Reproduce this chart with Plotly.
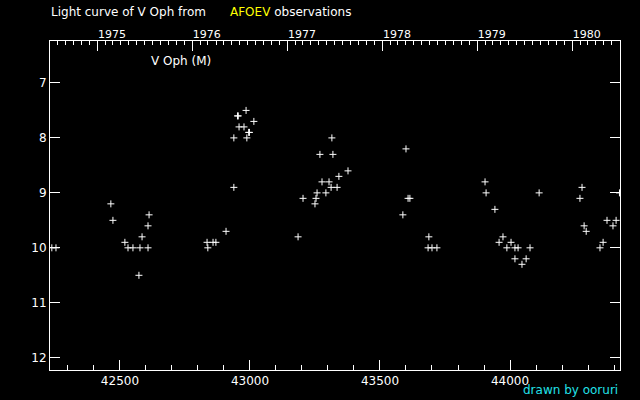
import datetime as dt
import plotly.graph_objects as go

jd = [42238, 42254, 42465, 42473, 42519, 42531, 42550, 42573, 42577, 42585,
      42608, 42608, 42612, 42835, 42838, 42858, 42869, 42908, 42938, 42938,
      42952, 42955, 42958, 42977, 42985, 42988, 42995, 42998, 43015, 43185,
      43204, 43250, 43254, 43258, 43269, 43277, 43292, 43304, 43312, 43315,
      43319, 43335, 43342, 43377, 43588, 43600, 43608, 43615, 43685, 43688,
      43700, 43719, 43904, 43908, 43942, 43958, 43973, 43988, 44004, 44019,
      44019, 44031, 44046, 44062, 44077, 44112, 44269, 44277, 44285, 44293,
      44346, 44358, 44373, 44396, 44408, 44421]
mag = [10.0, 10.0, 9.2, 9.5, 9.9, 10.0, 10.0, 10.5, 10.0, 9.8,
       9.6, 10.0, 9.4, 9.9, 10.0, 9.9, 9.9, 9.7, 8.9, 8.0,
       7.6, 7.6, 7.8, 7.8, 7.5, 8.0, 7.9, 7.9, 7.7, 9.8,
       9.1, 9.2, 9.1, 9.0, 8.3, 8.8, 9.0, 8.8, 8.9, 8.0,
       8.3, 8.9, 8.7, 8.6, 9.4, 8.2, 9.1, 9.1, 10.0, 9.8,
       10.0, 10.0, 8.8, 9.0, 9.3, 9.9, 9.8, 10.0, 9.9, 10.0,
       10.2, 10.0, 10.3, 10.2, 10.0, 9.0, 9.1, 8.9, 9.6, 9.7,
       10.0, 9.9, 9.5, 9.6, 9.5, 9.0]

x_range = [42231, 44423]
y_range = [12.223, 6.237]
years = [1975, 1976, 1977, 1978, 1979, 1980]


def jd_of(d):
    # JD - 2400000 at 0h UT
    return (d - dt.date(1858, 11, 17)).days + 0.5


year_ticks = [jd_of(dt.date(y, 1, 1)) for y in years]
month_ticks = [jd_of(dt.date(y, m, 1)) for y in range(1974, 1982) for m in range(1, 13)]
month_ticks = [t for t in month_ticks if x_range[0] <= t <= x_range[1]]

font = dict(family="DejaVu Sans", size=12, color="white")

fig = go.Figure()
fig.add_trace(go.Scatter(
    x=jd, y=mag, mode="markers",
    marker=dict(symbol="cross-thin", size=5, line=dict(width=1, color="white")),
    showlegend=False, hoverinfo="x+y",
))
# same points on the top (year) axis, invisible, just so that axis gets drawn
fig.add_trace(go.Scatter(
    x=jd, y=mag, mode="markers", xaxis="x2",
    marker=dict(size=1, opacity=0), showlegend=False, hoverinfo="skip",
))

fig.update_layout(
    width=640, height=400,
    margin=dict(l=50, r=20, t=41, b=30),
    paper_bgcolor="black", plot_bgcolor="black",
    font=font,
    xaxis=dict(
        range=x_range, tick0=0, dtick=500, tickformat="d", ticks="inside", ticklen=10,
        tickwidth=1, tickcolor="white", showline=True, linecolor="white",
        linewidth=1, mirror=True, showgrid=False, zeroline=False,
        minor=dict(dtick=100, ticks="inside", ticklen=5, tickcolor="white", showgrid=False),
        tickfont=font,
    ),
    xaxis2=dict(
        overlaying="x", side="top", range=x_range,
        tickmode="array", tickvals=year_ticks, ticktext=[str(y) for y in years],
        ticks="inside", ticklen=10, tickwidth=1, tickcolor="white",
        ticklabelposition="outside right",
        showline=False, showgrid=False, zeroline=False,
        minor=dict(tickmode="array", tickvals=month_ticks, ticks="inside",
                   ticklen=3.5, tickcolor="white", showgrid=False),
        tickfont=dict(family="DejaVu Sans", size=11, color="white"),
    ),
    yaxis=dict(
        range=y_range, tick0=0, dtick=1, ticks="inside", ticklen=10,
        tickwidth=1, tickcolor="white", showline=True, linecolor="white",
        linewidth=1, mirror="ticks", showgrid=False, zeroline=False,
        tickfont=font,
    ),
)


def px_x(p):
    return (p - 50) / 570


def px_y(p):
    return (370 - p) / 329


fig.add_annotation(text="Light curve of V Oph from", xref="paper", yref="paper",
                   x=px_x(49), y=px_y(12), xanchor="left", yanchor="middle",
                   showarrow=False, font=font)
fig.add_annotation(text="<span style='color:yellow'>AFOEV</span> observations",
                   xref="paper", yref="paper", x=px_x(228), y=px_y(12),
                   xanchor="left", yanchor="middle", showarrow=False, font=font)
fig.add_annotation(text="V Oph (M)", xref="paper", yref="paper",
                   x=px_x(149), y=px_y(61), xanchor="left", yanchor="middle",
                   showarrow=False, font=font)
fig.add_annotation(text="drawn by ooruri", xref="paper", yref="paper",
                   x=px_x(620), y=px_y(390), xanchor="right", yanchor="middle",
                   showarrow=False, font=dict(family="DejaVu Sans", size=12, color="#22e0e8"))

fig.write_html("out.html", config={"displayModeBar": False},
               post_script="document.body.style.margin='0';document.body.style.background='black';")
